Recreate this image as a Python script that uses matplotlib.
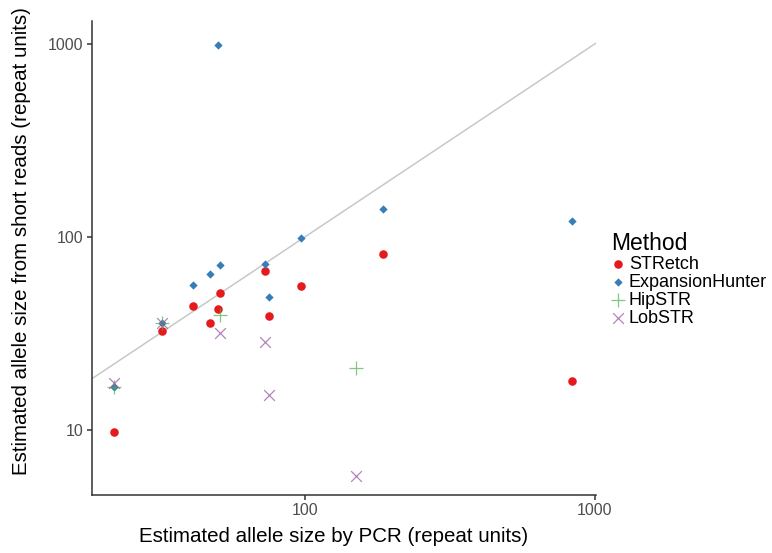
import numpy as np
import matplotlib.pyplot as plt

plt.rcParams['font.family'] = ['Liberation Sans', 'DejaVu Sans']

# PCR size (x) vs short-read estimate (y), repeat units
stretch_x = [22, 32, 41, 47, 50, 51, 73, 75, 97, 186, 833]
stretch_y = [9.8, 32.7, 44, 35.7, 42.4, 51.3, 66.8, 39, 55.6, 81.6, 17.9]

eh_x = [22, 32, 41, 47, 50, 51, 73, 75, 97, 186, 833]
eh_y = [16.6, 35.7, 56, 64.6, 985, 71.8, 72.3, 49, 98.4, 140, 121]

hip_x = [22, 32, 51, 150]
hip_y = [16.6, 35.7, 39.5, 21]

lob_x = [22, 32, 51, 73, 75, 150]
lob_y = [17.5, 35.7, 31.7, 28.7, 15.1, 5.78]

fig = plt.figure(figsize=(7.72, 5.53), dpi=100)
ax = fig.add_axes([0.119, 0.105, 0.653, 0.857])

ax.axline((10, 10), (100, 100), color='#c8c8c8', lw=1.1, zorder=1)

ax.scatter(stretch_x, stretch_y, marker='o', s=38, color='#e41a1c', lw=0, label='STRetch', zorder=3)
ax.scatter(eh_x, eh_y, marker='D', s=18, color='#377eb8', lw=0, label='ExpansionHunter', zorder=3)
ax.scatter(hip_x, hip_y, marker='+', s=90, color='#4daf4a', lw=0.9, alpha=0.7, label='HipSTR', zorder=3)
ax.scatter(lob_x, lob_y, marker='x', s=60, color='#984ea3', lw=0.9, alpha=0.7, label='LobSTR', zorder=3)

ax.set_xscale('log')
ax.set_yscale('log')
ax.set_xlim(18.4, 1010)
ax.set_ylim(4.6, 1315)
ax.set_xticks([100, 1000])
ax.set_xticklabels(['100', '1000'])
ax.set_yticks([10, 100, 1000])
ax.set_yticklabels(['10', '100', '1000'])
ax.minorticks_off()

for s in ['top', 'right']:
    ax.spines[s].set_visible(False)
for s in ['left', 'bottom']:
    ax.spines[s].set_color('#333333')
    ax.spines[s].set_linewidth(1.1)
ax.tick_params(colors='#333333', labelcolor='#4d4d4d', labelsize=11.5, length=3.5, width=1.1, pad=2.5)

ax.set_xlabel('Estimated allele size by PCR (repeat units)', fontsize=14.8)
ax.set_ylabel('Estimated allele size from short reads (repeat units)', fontsize=14.8)
ax.xaxis.set_label_coords(0.48, -0.068)
ax.yaxis.set_label_coords(-0.12, 0.535)

leg = ax.legend(title='Method', loc='center left', bbox_to_anchor=(1.015, 0.455), frameon=False,
                fontsize=13, title_fontsize=16.5, handletextpad=0.2, labelspacing=0.05,
                borderaxespad=0, handlelength=0.8)
leg._legend_box.align = 'left'
for h in leg.legend_handles:
    h.set_alpha(0.7 if h.get_label() in ('HipSTR', 'LobSTR') else 1)

fig.savefig('out.png', dpi=100)
